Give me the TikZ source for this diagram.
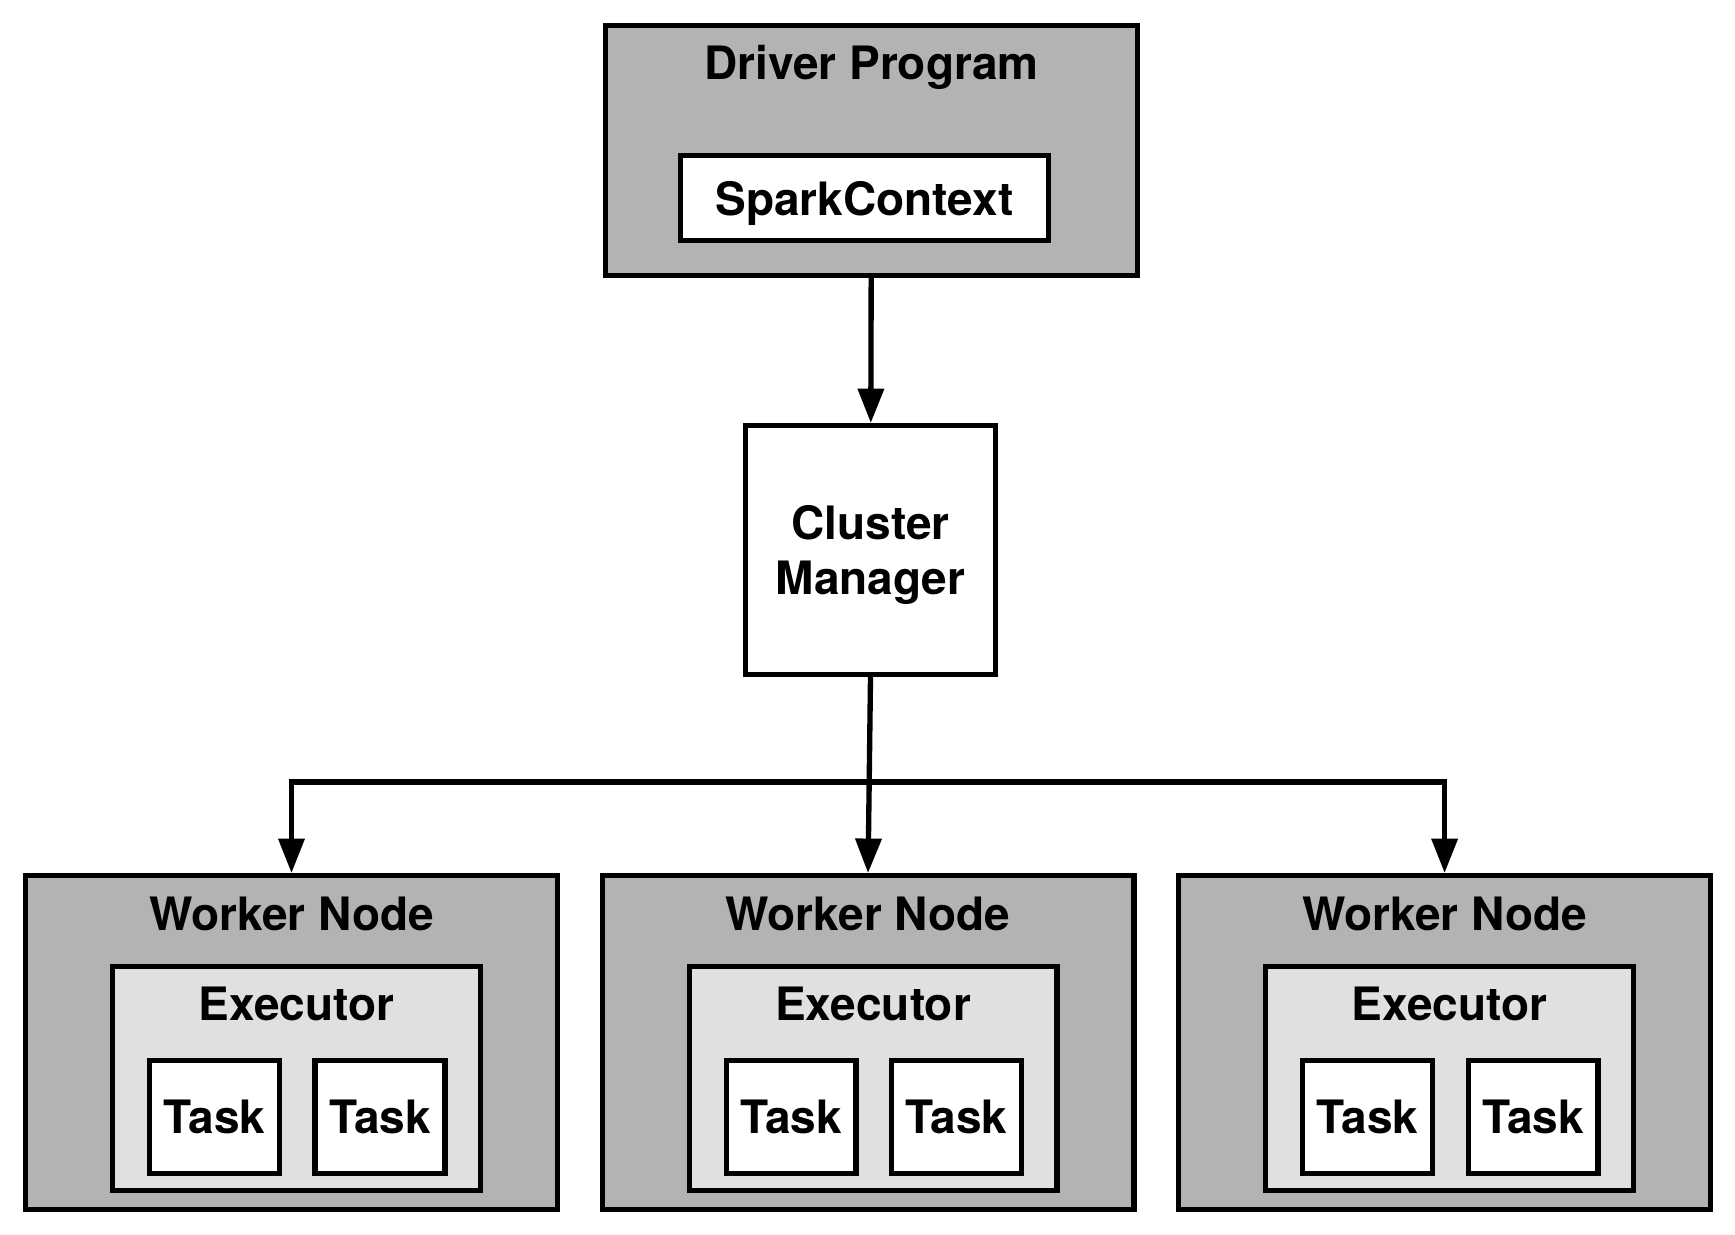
\documentclass[tikz,border=0pt]{standalone}
\usepackage{fontspec}
\setmainfont{TeX Gyre Heros}
\usetikzlibrary{arrows.meta, positioning, calc}
\definecolor{nodegray}{RGB}{179,179,179}
\definecolor{execgray}{RGB}{224,224,224}

\begin{document}
\begin{tikzpicture}[
    x=0.45pt, y=-0.45pt,
    >={Triangle[length=15.5pt,width=11.5pt]},
    line width=2.4pt,
    every node/.style={font=\fontsize{20.7}{24.75}\selectfont\bfseries},  % Helvetica-like bold everywhere
    node distance=17.8pt
]

% Styles for the boxes
\tikzset{
    outerbox/.style={draw, fill=nodegray, minimum width=239.25pt, inner sep=0pt},
    workerbox/.style={outerbox, minimum height=150.15pt},
    execbox/.style={draw, fill=execgray, minimum width=165.45pt, minimum height=100.65pt, inner sep=0pt},
    whitebox/.style={draw, fill=white, text depth=0pt, inner sep=0pt},
    taskbox/.style={whitebox, minimum width=58.35pt, minimum height=50.7pt},
    title/.style={anchor=base, inner sep=0pt}
}

\useasboundingbox (0,0) rectangle (1735,1235);

% Driver program
\node[outerbox, minimum height=112.35pt] (driver) at (871.5,150.5) {};
\node[title] (drivertitle) at ($(driver.north)+(0,57)$) {Driver Program};
\node[whitebox, minimum width=165.45pt, minimum height=38.1pt] (spark) at (864.5,198) {SparkContext};

% Cluster manager
\node[whitebox, minimum width=112.35pt, minimum height=111.9pt, align=center, below=65.25pt of driver, xshift=-0.45pt] (cluster) {Cluster\\Manager};

% Worker nodes
\node[workerbox, below=88.2pt of cluster, xshift=-1.1pt] (w2) {};
\node[workerbox, left=of w2] (w1) {};
\node[workerbox, right=of w2] (w3) {};

\node[title] (w1title) at ($(w1.north)+(0,57)$) {Worker Node};
\node[title] (w2title) at ($(w2.north)+(0,57)$) {Worker Node};
\node[title] (w3title) at ($(w3.north)+(0,57)$) {Worker Node};

% Executors
\node[execbox, anchor=north] (e1) at ($(w1.north)+(5,91)$) {};
\node[execbox, anchor=north] (e2) at ($(w2.north)+(5,91)$) {};
\node[execbox, anchor=north] (e3) at ($(w3.north)+(5,91)$) {};

\node[title] (e1title) at ($(e1.north)+(0,56)$) {Executor};
\node[title] (e2title) at ($(e2.north)+(0,56)$) {Executor};
\node[title] (e3title) at ($(e3.north)+(0,56)$) {Executor};

% Tasks
\node[taskbox] (t11) at ($(e1.center)+(-82,38.5)$) {Task};
\node[taskbox] (t12) at ($(e1.center)+(83.5,38.5)$) {Task};
\node[taskbox] (t21) at ($(e2.center)+(-82,38.5)$) {Task};
\node[taskbox] (t22) at ($(e2.center)+(83.5,38.5)$) {Task};
\node[taskbox] (t31) at ($(e3.center)+(-82,38.5)$) {Task};
\node[taskbox] (t32) at ($(e3.center)+(83.5,38.5)$) {Task};

% Connectors
\draw[->] (driver) -- (cluster);
\coordinate (split) at ($(cluster.south)+(0,105)$);
\draw[->] (cluster.south) -- (w2.north);
\draw[->] (split) -| (w1);
\draw[->] (split) -| (w3);

\end{tikzpicture}
\end{document}
